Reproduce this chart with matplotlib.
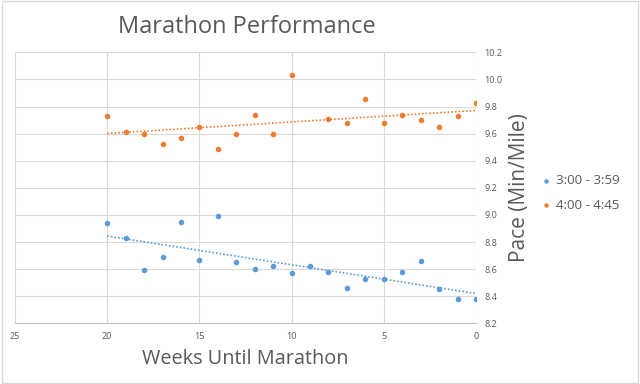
import numpy as np
import matplotlib
matplotlib.use("Agg")
import matplotlib.pyplot as plt
from matplotlib.patches import Rectangle

plt.rcParams['font.family'] = ['Open Sans', 'DejaVu Sans']

# weeks until marathon
weeks_fast = [20, 19, 18, 17, 16, 15, 14, 13, 12, 11, 10, 9, 8, 7, 6, 5, 4, 3, 2, 1, 0]
pace_fast = [8.94, 8.83, 8.59, 8.69, 8.945, 8.67, 8.99, 8.65, 8.60, 8.625, 8.57,
             8.62, 8.58, 8.46, 8.53, 8.53, 8.58, 8.66, 8.45, 8.38, 8.38]

weeks_slow = [20, 19, 18, 17, 16, 15, 14, 13, 12, 11, 10, 8, 7, 6, 5, 4, 3, 2, 1, 0]
pace_slow = [9.73, 9.615, 9.60, 9.525, 9.57, 9.65, 9.485, 9.60, 9.74, 9.595, 10.03,
             9.71, 9.68, 9.855, 9.68, 9.74, 9.70, 9.65, 9.73, 9.825]

series = [
    ("3:00 - 3:59", weeks_fast, pace_fast, "#5B9BD5"),
    ("4:00 - 4:45", weeks_slow, pace_slow, "#ED7D31"),
]

fig = plt.figure(figsize=(6.4, 3.84), dpi=100)
ax = fig.add_axes([15/640, 1 - 323.3/384, (476 - 15)/640, (323.3 - 52.3)/384])

for label, wk, pace, col in series:
    wk = np.array(wk)
    pace = np.array(pace)
    ax.scatter(wk, pace, s=16, color=col, label=label, zorder=3, linewidths=0)
    # linear trendline
    k, b = np.polyfit(wk, pace, 1)
    xs = np.array([wk.max(), wk.min()])
    ax.plot(xs, k * xs + b, color=col, linestyle=(0, (1, 1.2)), linewidth=1.2, zorder=2)

ax.set_xlim(25, 0)
ax.set_ylim(8.2, 10.2)
ax.set_xticks([25, 20, 15, 10, 5, 0])
ax.set_yticks(np.arange(8.2, 10.21, 0.2))
ax.yaxis.set_major_formatter(plt.FuncFormatter(lambda v, p: f"{v:.1f}"))
ax.yaxis.tick_right()
ax.yaxis.set_label_position('right')
ax.grid(True, color="#d9d9d9", linewidth=0.8)
ax.set_axisbelow(True)
for s in ['top', 'left', 'right']:
    ax.spines[s].set_visible(False)
ax.spines['bottom'].set_color("#bfbfbf")
ax.tick_params(length=0, labelsize=6.5, colors="#595959", pad=6)

ax.set_xlabel("Weeks Until Marathon", fontsize=14.3, color="#595959", labelpad=6)
ax.set_ylabel("Pace (Min/Mile)", fontsize=15, color="#595959", labelpad=5)
fig.text(247/640, 1 - 27/384, "Marathon Performance", fontsize=17, color="#595959",
         ha="center", va="center")

ax.legend(loc="center left", bbox_to_anchor=(535/640, 0.497), bbox_transform=fig.transFigure,
          frameon=False, fontsize=9.6, handlelength=0.6, handletextpad=0.45, markerscale=0.8,
          labelcolor="#595959", labelspacing=0.85, borderpad=0)

fig.patches.append(Rectangle((0.003, 0.003), 0.994, 0.994, transform=fig.transFigure,
                             fill=False, edgecolor="#d9d9d9", linewidth=1))

fig.savefig("out.png", dpi=100, facecolor="white")
